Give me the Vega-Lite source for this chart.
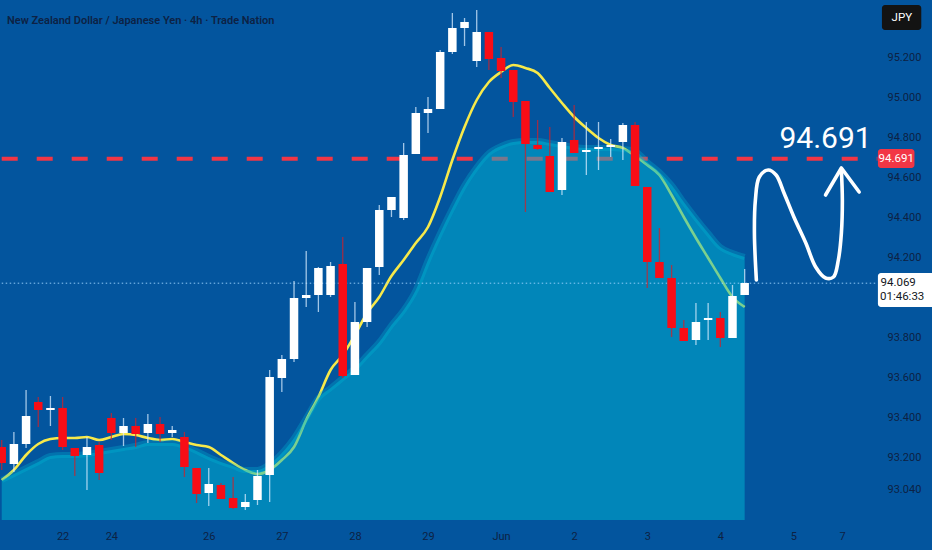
{
  "$schema": "https://vega.github.io/schema/vega-lite/v6.json",
  "width": 875,
  "height": 520,
  "autosize": "none",
  "padding": {"left": 0, "top": 0, "right": 57, "bottom": 30},
  "background": "#03559e",
  "title": {
    "text": "New Zealand Dollar / Japanese Yen · 4h · Trade Nation",
    "anchor": "start",
    "frame": "group",
    "orient": "top",
    "offset": -21,
    "dx": 7,
    "dy": 14,
    "baseline": "alphabetic",
    "font": "Roboto",
    "fontSize": 11,
    "fontWeight": 600,
    "color": "#0d2244"
  },
  "datasets": {
    "candles": [
      {"i": -1, "o": 93.25, "h": 93.285, "l": 93.135, "c": 93.17, "ma": 93.085, "ar": 93.085},
      {"i": 0, "o": 93.165, "h": 93.325, "l": 93.125, "c": 93.265, "ma": 93.135, "ar": 93.115},
      {"i": 1, "o": 93.265, "h": 93.535, "l": 93.245, "c": 93.405, "ma": 93.21, "ar": 93.145},
      {"i": 2, "o": 93.475, "h": 93.5, "l": 93.35, "c": 93.435, "ma": 93.265, "ar": 93.175},
      {"i": 3, "o": 93.435, "h": 93.505, "l": 93.355, "c": 93.445, "ma": 93.29, "ar": 93.205},
      {"i": 4, "o": 93.445, "h": 93.5, "l": 93.235, "c": 93.25, "ma": 93.295, "ar": 93.21},
      {"i": 5, "o": 93.245, "h": 93.245, "l": 93.105, "c": 93.205, "ma": 93.295, "ar": 93.21},
      {"i": 6, "o": 93.21, "h": 93.3, "l": 93.035, "c": 93.25, "ma": 93.3, "ar": 93.215},
      {"i": 7, "o": 93.26, "h": 93.275, "l": 93.085, "c": 93.12, "ma": 93.285, "ar": 93.225},
      {"i": 8, "o": 93.395, "h": 93.42, "l": 93.285, "c": 93.32, "ma": 93.3, "ar": 93.235},
      {"i": 9, "o": 93.32, "h": 93.395, "l": 93.255, "c": 93.355, "ma": 93.315, "ar": 93.245},
      {"i": 10, "o": 93.355, "h": 93.395, "l": 93.25, "c": 93.315, "ma": 93.31, "ar": 93.255},
      {"i": 11, "o": 93.32, "h": 93.415, "l": 93.27, "c": 93.365, "ma": 93.295, "ar": 93.27},
      {"i": 12, "o": 93.365, "h": 93.4, "l": 93.275, "c": 93.315, "ma": 93.285, "ar": 93.27},
      {"i": 13, "o": 93.32, "h": 93.355, "l": 93.3, "c": 93.335, "ma": 93.29, "ar": 93.27},
      {"i": 14, "o": 93.3, "h": 93.325, "l": 93.1, "c": 93.15, "ma": 93.275, "ar": 93.255},
      {"i": 15, "o": 93.145, "h": 93.145, "l": 92.97, "c": 93.015, "ma": 93.26, "ar": 93.23},
      {"i": 16, "o": 93.02, "h": 93.145, "l": 92.955, "c": 93.065, "ma": 93.25, "ar": 93.2},
      {"i": 17, "o": 93.06, "h": 93.07, "l": 92.99, "c": 92.99, "ma": 93.21, "ar": 93.175},
      {"i": 18, "o": 92.995, "h": 93.1, "l": 92.94, "c": 92.945, "ma": 93.17, "ar": 93.155},
      {"i": 19, "o": 92.95, "h": 93.015, "l": 92.935, "c": 92.975, "ma": 93.135, "ar": 93.135},
      {"i": 20, "o": 92.985, "h": 93.135, "l": 92.96, "c": 93.105, "ma": 93.115, "ar": 93.135},
      {"i": 21, "o": 93.11, "h": 93.635, "l": 92.975, "c": 93.6, "ma": 93.135, "ar": 93.165},
      {"i": 22, "o": 93.595, "h": 93.71, "l": 93.525, "c": 93.69, "ma": 93.185, "ar": 93.22},
      {"i": 23, "o": 93.69, "h": 94.08, "l": 93.675, "c": 93.995, "ma": 93.25, "ar": 93.295},
      {"i": 24, "o": 93.995, "h": 94.23, "l": 93.95, "c": 94.01, "ma": 93.385, "ar": 93.395},
      {"i": 25, "o": 94.01, "h": 94.15, "l": 93.925, "c": 94.145, "ma": 93.5, "ar": 93.495},
      {"i": 26, "o": 94.01, "h": 94.175, "l": 94.0, "c": 94.155, "ma": 93.635, "ar": 93.545},
      {"i": 27, "o": 94.165, "h": 94.3, "l": 93.595, "c": 93.605, "ma": 93.71, "ar": 93.595},
      {"i": 28, "o": 93.61, "h": 93.975, "l": 93.61, "c": 93.875, "ma": 93.81, "ar": 93.645},
      {"i": 29, "o": 93.875, "h": 94.145, "l": 93.85, "c": 94.145, "ma": 93.92, "ar": 93.71},
      {"i": 30, "o": 94.15, "h": 94.46, "l": 94.11, "c": 94.435, "ma": 94.0, "ar": 93.775},
      {"i": 31, "o": 94.435, "h": 94.5, "l": 94.4, "c": 94.5, "ma": 94.105, "ar": 93.86},
      {"i": 32, "o": 94.395, "h": 94.77, "l": 94.385, "c": 94.71, "ma": 94.185, "ar": 93.935},
      {"i": 33, "o": 94.715, "h": 94.95, "l": 94.715, "c": 94.92, "ma": 94.27, "ar": 94.035},
      {"i": 34, "o": 94.92, "h": 95.0, "l": 94.82, "c": 94.94, "ma": 94.35, "ar": 94.185},
      {"i": 35, "o": 94.94, "h": 95.235, "l": 94.94, "c": 95.225, "ma": 94.5, "ar": 94.32},
      {"i": 36, "o": 95.225, "h": 95.42, "l": 95.215, "c": 95.345, "ma": 94.685, "ar": 94.445},
      {"i": 37, "o": 95.345, "h": 95.395, "l": 95.255, "c": 95.375, "ma": 94.85, "ar": 94.56},
      {"i": 38, "o": 95.18, "h": 95.435, "l": 95.15, "c": 95.325, "ma": 94.985, "ar": 94.65},
      {"i": 39, "o": 95.325, "h": 95.325, "l": 95.135, "c": 95.19, "ma": 95.075, "ar": 94.72},
      {"i": 40, "o": 95.195, "h": 95.25, "l": 95.095, "c": 95.13, "ma": 95.125, "ar": 94.755},
      {"i": 41, "o": 95.135, "h": 95.135, "l": 94.9, "c": 94.975, "ma": 95.16, "ar": 94.775},
      {"i": 42, "o": 94.98, "h": 94.98, "l": 94.425, "c": 94.765, "ma": 95.145, "ar": 94.78},
      {"i": 43, "o": 94.76, "h": 94.885, "l": 94.735, "c": 94.74, "ma": 95.12, "ar": 94.78},
      {"i": 44, "o": 94.705, "h": 94.85, "l": 94.525, "c": 94.525, "ma": 95.045, "ar": 94.77},
      {"i": 45, "o": 94.535, "h": 94.795, "l": 94.51, "c": 94.775, "ma": 94.97, "ar": 94.76},
      {"i": 46, "o": 94.785, "h": 94.96, "l": 94.72, "c": 94.72, "ma": 94.9, "ar": 94.75},
      {"i": 47, "o": 94.725, "h": 94.875, "l": 94.61, "c": 94.735, "ma": 94.845, "ar": 94.745},
      {"i": 48, "o": 94.74, "h": 94.875, "l": 94.635, "c": 94.75, "ma": 94.795, "ar": 94.745},
      {"i": 49, "o": 94.75, "h": 94.79, "l": 94.7, "c": 94.76, "ma": 94.76, "ar": 94.745},
      {"i": 50, "o": 94.775, "h": 94.87, "l": 94.685, "c": 94.86, "ma": 94.745, "ar": 94.74},
      {"i": 51, "o": 94.86, "h": 94.875, "l": 94.555, "c": 94.555, "ma": 94.705, "ar": 94.73},
      {"i": 52, "o": 94.55, "h": 94.55, "l": 94.045, "c": 94.175, "ma": 94.66, "ar": 94.675},
      {"i": 53, "o": 94.175, "h": 94.345, "l": 94.095, "c": 94.095, "ma": 94.61, "ar": 94.625},
      {"i": 54, "o": 94.095, "h": 94.16, "l": 93.8, "c": 93.845, "ma": 94.51, "ar": 94.56},
      {"i": 55, "o": 93.845, "h": 93.885, "l": 93.78, "c": 93.78, "ma": 94.4, "ar": 94.475},
      {"i": 56, "o": 93.785, "h": 93.97, "l": 93.76, "c": 93.875, "ma": 94.295, "ar": 94.395},
      {"i": 57, "o": 93.885, "h": 93.97, "l": 93.785, "c": 93.895, "ma": 94.195, "ar": 94.32},
      {"i": 58, "o": 93.895, "h": 93.925, "l": 93.75, "c": 93.795, "ma": 94.095, "ar": 94.25},
      {"i": 59, "o": 93.795, "h": 94.06, "l": 93.795, "c": 94.005, "ma": 94.0, "ar": 94.22},
      {"i": 60, "o": 94.01, "h": 94.14, "l": 94.01, "c": 94.07, "ma": 93.95, "ar": 94.2}
    ],
    "levels": [
      {"name": "target", "p": 94.691, "from": -1, "to": 70.9},
      {"name": "last", "p": 94.069, "from": -1, "to": 70.9}
    ],
    "squiggle": [
      {"k": 1, "i": 60.96, "p": 94.085},
      {"k": 2, "i": 60.8, "p": 94.32},
      {"k": 3, "i": 60.88, "p": 94.485},
      {"k": 4, "i": 61.2, "p": 94.6},
      {"k": 5, "i": 61.93, "p": 94.635},
      {"k": 6, "i": 62.58, "p": 94.61},
      {"k": 7, "i": 63.23, "p": 94.52},
      {"k": 8, "i": 64.04, "p": 94.4},
      {"k": 9, "i": 65.02, "p": 94.27},
      {"k": 10, "i": 65.83, "p": 94.15},
      {"k": 11, "i": 66.64, "p": 94.095},
      {"k": 12, "i": 67.29, "p": 94.1},
      {"k": 13, "i": 67.69, "p": 94.185},
      {"k": 14, "i": 67.94, "p": 94.32},
      {"k": 15, "i": 68.02, "p": 94.485},
      {"k": 16, "i": 67.94, "p": 94.635}
    ],
    "arrowhead": [
      {"k": 1, "i": 66.64, "p": 94.51},
      {"k": 2, "i": 67.94, "p": 94.645},
      {"k": 3, "i": 69.4, "p": 94.525}
    ],
    "boxes": [
      {"name": "target", "x0": 70.94, "x1": 73.94, "p0": 94.645, "p1": 94.74, "fill": "red"},
      {"name": "last", "x0": 70.94, "x1": 76, "p0": 93.95, "p1": 94.12, "fill": "white"},
      {"name": "ccy", "x0": 71.27, "x1": 74.5, "p0": 95.335, "p1": 95.46, "fill": "black"}
    ],
    "labels": [
      {"t": "94.691", "i": 72.44, "p": 94.691, "kind": "target"},
      {"t": "94.069", "i": 72.6, "p": 94.07, "kind": "last"},
      {"t": "01:46:33", "i": 72.93, "p": 94.0, "kind": "timer"},
      {"t": "JPY", "i": 72.9, "p": 95.397, "kind": "ccy"}
    ]
  },
  "layer": [
    {
      "data": {"name": "levels"},
      "transform": [{"filter": "datum.name == 'target'"}],
      "mark": {"type": "rule", "color": "#f23645", "strokeWidth": 4, "strokeDash": [16, 19]},
      "encoding": {
        "x": {
          "field": "from", "type": "quantitative",
          "scale": {"domain": [-0.73, 70.29], "nice": false, "zero": false},
          "axis": {"orient": "bottom", "title": null, "grid": false, "domain": false, "ticks": false, "values": [4, 8, 16, 22, 28, 34, 40, 46, 52, 58, 64, 68], "labelExpr": "['22','24','26','27','28','29','Jun','2','3','4','5','7'][indexof([4,8,16,22,28,34,40,46,52,58,64,68], datum.value)]", "labelFont": "Roboto", "labelFontSize": 11, "labelColor": "#0d2244", "labelPadding": 10}
        },
        "x2": {"field": "to"},
        "y": {
          "field": "p", "type": "quantitative",
          "scale": {"domain": [92.885, 95.485], "nice": false, "zero": false},
          "axis": {"orient": "right", "title": null, "grid": false, "domain": false, "ticks": false, "values": [93.04, 93.2, 93.4, 93.6, 93.8, 94.2, 94.4, 94.6, 94.8, 95.0, 95.2], "format": ".3f", "labelFont": "Roboto", "labelFontSize": 11, "labelColor": "#0d2244", "labelPadding": 12}
        }
      }
    },
    {
      "data": {"name": "candles"},
      "mark": {"type": "line", "color": "#f7e94a", "strokeWidth": 2.6, "interpolate": "monotone"},
      "encoding": {
        "x": {"field": "i", "type": "quantitative", "axis": {"orient": "bottom", "title": null, "grid": false, "domain": false, "ticks": false, "values": [4, 8, 16, 22, 28, 34, 40, 46, 52, 58, 64, 68], "labelExpr": "['22','24','26','27','28','29','Jun','2','3','4','5','7'][indexof([4,8,16,22,28,34,40,46,52,58,64,68], datum.value)]", "labelFont": "Roboto", "labelFontSize": 11, "labelColor": "#0d2244", "labelPadding": 10}},
        "y": {"field": "ma", "type": "quantitative", "axis": {"orient": "right", "title": null, "grid": false, "domain": false, "ticks": false, "values": [93.04, 93.2, 93.4, 93.6, 93.8, 94.2, 94.4, 94.6, 94.8, 95.0, 95.2], "format": ".3f", "labelFont": "Roboto", "labelFontSize": 11, "labelColor": "#0d2244", "labelPadding": 12}}
      }
    },
    {
      "data": {"name": "candles"},
      "mark": {"type": "area", "color": "#00b8d4", "opacity": 0.5, "interpolate": "monotone", "clip": true},
      "encoding": {
        "x": {"field": "i", "type": "quantitative", "axis": {"orient": "bottom", "title": null, "grid": false, "domain": false, "ticks": false, "values": [4, 8, 16, 22, 28, 34, 40, 46, 52, 58, 64, 68], "labelExpr": "['22','24','26','27','28','29','Jun','2','3','4','5','7'][indexof([4,8,16,22,28,34,40,46,52,58,64,68], datum.value)]", "labelFont": "Roboto", "labelFontSize": 11, "labelColor": "#0d2244", "labelPadding": 10}},
        "y": {"field": "ar", "type": "quantitative", "axis": {"orient": "right", "title": null, "grid": false, "domain": false, "ticks": false, "values": [93.04, 93.2, 93.4, 93.6, 93.8, 94.2, 94.4, 94.6, 94.8, 95.0, 95.2], "format": ".3f", "labelFont": "Roboto", "labelFontSize": 11, "labelColor": "#0d2244", "labelPadding": 12}}
      }
    },
    {
      "data": {"name": "candles"},
      "mark": {"type": "line", "color": "#00b8d4", "opacity": 0.3, "strokeWidth": 6, "interpolate": "monotone", "clip": true},
      "encoding": {
        "x": {"field": "i", "type": "quantitative", "axis": {"orient": "bottom", "title": null, "grid": false, "domain": false, "ticks": false, "values": [4, 8, 16, 22, 28, 34, 40, 46, 52, 58, 64, 68], "labelExpr": "['22','24','26','27','28','29','Jun','2','3','4','5','7'][indexof([4,8,16,22,28,34,40,46,52,58,64,68], datum.value)]", "labelFont": "Roboto", "labelFontSize": 11, "labelColor": "#0d2244", "labelPadding": 10}},
        "y": {"field": "ar", "type": "quantitative", "axis": {"orient": "right", "title": null, "grid": false, "domain": false, "ticks": false, "values": [93.04, 93.2, 93.4, 93.6, 93.8, 94.2, 94.4, 94.6, 94.8, 95.0, 95.2], "format": ".3f", "labelFont": "Roboto", "labelFontSize": 11, "labelColor": "#0d2244", "labelPadding": 12}}
      }
    },
    {
      "data": {"name": "levels"},
      "transform": [{"filter": "datum.name == 'last'"}],
      "mark": {"type": "rule", "color": "#9fd4ff", "strokeWidth": 1, "strokeDash": [1.5, 2.5], "opacity": 0.9},
      "encoding": {
        "x": {"field": "from", "type": "quantitative", "axis": {"orient": "bottom", "title": null, "grid": false, "domain": false, "ticks": false, "values": [4, 8, 16, 22, 28, 34, 40, 46, 52, 58, 64, 68], "labelExpr": "['22','24','26','27','28','29','Jun','2','3','4','5','7'][indexof([4,8,16,22,28,34,40,46,52,58,64,68], datum.value)]", "labelFont": "Roboto", "labelFontSize": 11, "labelColor": "#0d2244", "labelPadding": 10}},
        "x2": {"field": "to"},
        "y": {"field": "p", "type": "quantitative", "axis": {"orient": "right", "title": null, "grid": false, "domain": false, "ticks": false, "values": [93.04, 93.2, 93.4, 93.6, 93.8, 94.2, 94.4, 94.6, 94.8, 95.0, 95.2], "format": ".3f", "labelFont": "Roboto", "labelFontSize": 11, "labelColor": "#0d2244", "labelPadding": 12}}
      }
    },
    {
      "data": {"name": "candles"},
      "mark": {"type": "rule", "strokeWidth": 1.3, "opacity": 0.75},
      "encoding": {
        "x": {"field": "i", "type": "quantitative", "axis": {"orient": "bottom", "title": null, "grid": false, "domain": false, "ticks": false, "values": [4, 8, 16, 22, 28, 34, 40, 46, 52, 58, 64, 68], "labelExpr": "['22','24','26','27','28','29','Jun','2','3','4','5','7'][indexof([4,8,16,22,28,34,40,46,52,58,64,68], datum.value)]", "labelFont": "Roboto", "labelFontSize": 11, "labelColor": "#0d2244", "labelPadding": 10}},
        "y": {"field": "l", "type": "quantitative", "axis": {"orient": "right", "title": null, "grid": false, "domain": false, "ticks": false, "values": [93.04, 93.2, 93.4, 93.6, 93.8, 94.2, 94.4, 94.6, 94.8, 95.0, 95.2], "format": ".3f", "labelFont": "Roboto", "labelFontSize": 11, "labelColor": "#0d2244", "labelPadding": 12}},
        "y2": {"field": "h"},
        "color": {"condition": {"test": "datum.c >= datum.o", "value": "#d8ecff"}, "value": "#d0202a"}
      }
    },
    {
      "data": {"name": "candles"},
      "mark": {"type": "bar", "size": 8.5},
      "encoding": {
        "x": {"field": "i", "type": "quantitative", "axis": {"orient": "bottom", "title": null, "grid": false, "domain": false, "ticks": false, "values": [4, 8, 16, 22, 28, 34, 40, 46, 52, 58, 64, 68], "labelExpr": "['22','24','26','27','28','29','Jun','2','3','4','5','7'][indexof([4,8,16,22,28,34,40,46,52,58,64,68], datum.value)]", "labelFont": "Roboto", "labelFontSize": 11, "labelColor": "#0d2244", "labelPadding": 10}},
        "y": {"field": "o", "type": "quantitative", "axis": {"orient": "right", "title": null, "grid": false, "domain": false, "ticks": false, "values": [93.04, 93.2, 93.4, 93.6, 93.8, 94.2, 94.4, 94.6, 94.8, 95.0, 95.2], "format": ".3f", "labelFont": "Roboto", "labelFontSize": 11, "labelColor": "#0d2244", "labelPadding": 12}},
        "y2": {"field": "c"},
        "color": {"condition": {"test": "datum.c >= datum.o", "value": "#ffffff"}, "value": "#f80d16"}
      }
    },
    {
      "data": {"name": "squiggle"},
      "mark": {"type": "line", "color": "#ffffff", "strokeWidth": 3.6, "strokeCap": "round", "interpolate": "catmull-rom"},
      "encoding": {
        "x": {"field": "i", "type": "quantitative", "axis": {"orient": "bottom", "title": null, "grid": false, "domain": false, "ticks": false, "values": [4, 8, 16, 22, 28, 34, 40, 46, 52, 58, 64, 68], "labelExpr": "['22','24','26','27','28','29','Jun','2','3','4','5','7'][indexof([4,8,16,22,28,34,40,46,52,58,64,68], datum.value)]", "labelFont": "Roboto", "labelFontSize": 11, "labelColor": "#0d2244", "labelPadding": 10}},
        "y": {"field": "p", "type": "quantitative", "axis": {"orient": "right", "title": null, "grid": false, "domain": false, "ticks": false, "values": [93.04, 93.2, 93.4, 93.6, 93.8, 94.2, 94.4, 94.6, 94.8, 95.0, 95.2], "format": ".3f", "labelFont": "Roboto", "labelFontSize": 11, "labelColor": "#0d2244", "labelPadding": 12}},
        "order": {"field": "k"}
      }
    },
    {
      "data": {"name": "arrowhead"},
      "mark": {"type": "line", "color": "#ffffff", "strokeWidth": 3.6, "strokeCap": "round", "strokeJoin": "round"},
      "encoding": {
        "x": {"field": "i", "type": "quantitative", "axis": {"orient": "bottom", "title": null, "grid": false, "domain": false, "ticks": false, "values": [4, 8, 16, 22, 28, 34, 40, 46, 52, 58, 64, 68], "labelExpr": "['22','24','26','27','28','29','Jun','2','3','4','5','7'][indexof([4,8,16,22,28,34,40,46,52,58,64,68], datum.value)]", "labelFont": "Roboto", "labelFontSize": 11, "labelColor": "#0d2244", "labelPadding": 10}},
        "y": {"field": "p", "type": "quantitative", "axis": {"orient": "right", "title": null, "grid": false, "domain": false, "ticks": false, "values": [93.04, 93.2, 93.4, 93.6, 93.8, 94.2, 94.4, 94.6, 94.8, 95.0, 95.2], "format": ".3f", "labelFont": "Roboto", "labelFontSize": 11, "labelColor": "#0d2244", "labelPadding": 12}},
        "order": {"field": "k"}
      }
    },
    {
      "data": {"values": [{"t": "94.691", "i": 66.64, "p": 94.745}]},
      "mark": {"type": "text", "color": "#ffffff", "fontSize": 30, "font": "Roboto", "align": "center", "baseline": "alphabetic"},
      "encoding": {
        "x": {"field": "i", "type": "quantitative", "axis": {"orient": "bottom", "title": null, "grid": false, "domain": false, "ticks": false, "values": [4, 8, 16, 22, 28, 34, 40, 46, 52, 58, 64, 68], "labelExpr": "['22','24','26','27','28','29','Jun','2','3','4','5','7'][indexof([4,8,16,22,28,34,40,46,52,58,64,68], datum.value)]", "labelFont": "Roboto", "labelFontSize": 11, "labelColor": "#0d2244", "labelPadding": 10}},
        "y": {"field": "p", "type": "quantitative", "axis": {"orient": "right", "title": null, "grid": false, "domain": false, "ticks": false, "values": [93.04, 93.2, 93.4, 93.6, 93.8, 94.2, 94.4, 94.6, 94.8, 95.0, 95.2], "format": ".3f", "labelFont": "Roboto", "labelFontSize": 11, "labelColor": "#0d2244", "labelPadding": 12}},
        "text": {"field": "t"}
      }
    },
    {
      "data": {"name": "boxes"},
      "mark": {"type": "rect", "cornerRadius": 3},
      "encoding": {
        "x": {"field": "x0", "type": "quantitative", "axis": {"orient": "bottom", "title": null, "grid": false, "domain": false, "ticks": false, "values": [4, 8, 16, 22, 28, 34, 40, 46, 52, 58, 64, 68], "labelExpr": "['22','24','26','27','28','29','Jun','2','3','4','5','7'][indexof([4,8,16,22,28,34,40,46,52,58,64,68], datum.value)]", "labelFont": "Roboto", "labelFontSize": 11, "labelColor": "#0d2244", "labelPadding": 10}},
        "x2": {"field": "x1"},
        "y": {"field": "p0", "type": "quantitative", "axis": {"orient": "right", "title": null, "grid": false, "domain": false, "ticks": false, "values": [93.04, 93.2, 93.4, 93.6, 93.8, 94.2, 94.4, 94.6, 94.8, 95.0, 95.2], "format": ".3f", "labelFont": "Roboto", "labelFontSize": 11, "labelColor": "#0d2244", "labelPadding": 12}},
        "y2": {"field": "p1"},
        "color": {"field": "fill", "type": "nominal", "scale": {"domain": ["red", "white", "black"], "range": ["#f23645", "#ffffff", "#131313"]}, "legend": null}
      }
    },
    {
      "data": {"name": "labels"},
      "mark": {"type": "text", "font": "Roboto", "fontSize": 11.5, "align": "center", "baseline": "middle"},
      "encoding": {
        "x": {"field": "i", "type": "quantitative", "axis": {"orient": "bottom", "title": null, "grid": false, "domain": false, "ticks": false, "values": [4, 8, 16, 22, 28, 34, 40, 46, 52, 58, 64, 68], "labelExpr": "['22','24','26','27','28','29','Jun','2','3','4','5','7'][indexof([4,8,16,22,28,34,40,46,52,58,64,68], datum.value)]", "labelFont": "Roboto", "labelFontSize": 11, "labelColor": "#0d2244", "labelPadding": 10}},
        "y": {"field": "p", "type": "quantitative", "axis": {"orient": "right", "title": null, "grid": false, "domain": false, "ticks": false, "values": [93.04, 93.2, 93.4, 93.6, 93.8, 94.2, 94.4, 94.6, 94.8, 95.0, 95.2], "format": ".3f", "labelFont": "Roboto", "labelFontSize": 11, "labelColor": "#0d2244", "labelPadding": 12}},
        "text": {"field": "t"},
        "color": {"field": "kind", "type": "nominal", "scale": {"domain": ["target", "last", "timer", "ccy"], "range": ["#ffffff", "#131722", "#131722", "#ffffff"]}, "legend": null},
        "fontWeight": {"condition": {"test": "datum.kind == 'last'", "value": "bold"}, "value": "normal"}
      }
    }
  ],
  "resolve": {"scale": {"color": "independent"}},
  "config": {"view": {"stroke": null}}
}
